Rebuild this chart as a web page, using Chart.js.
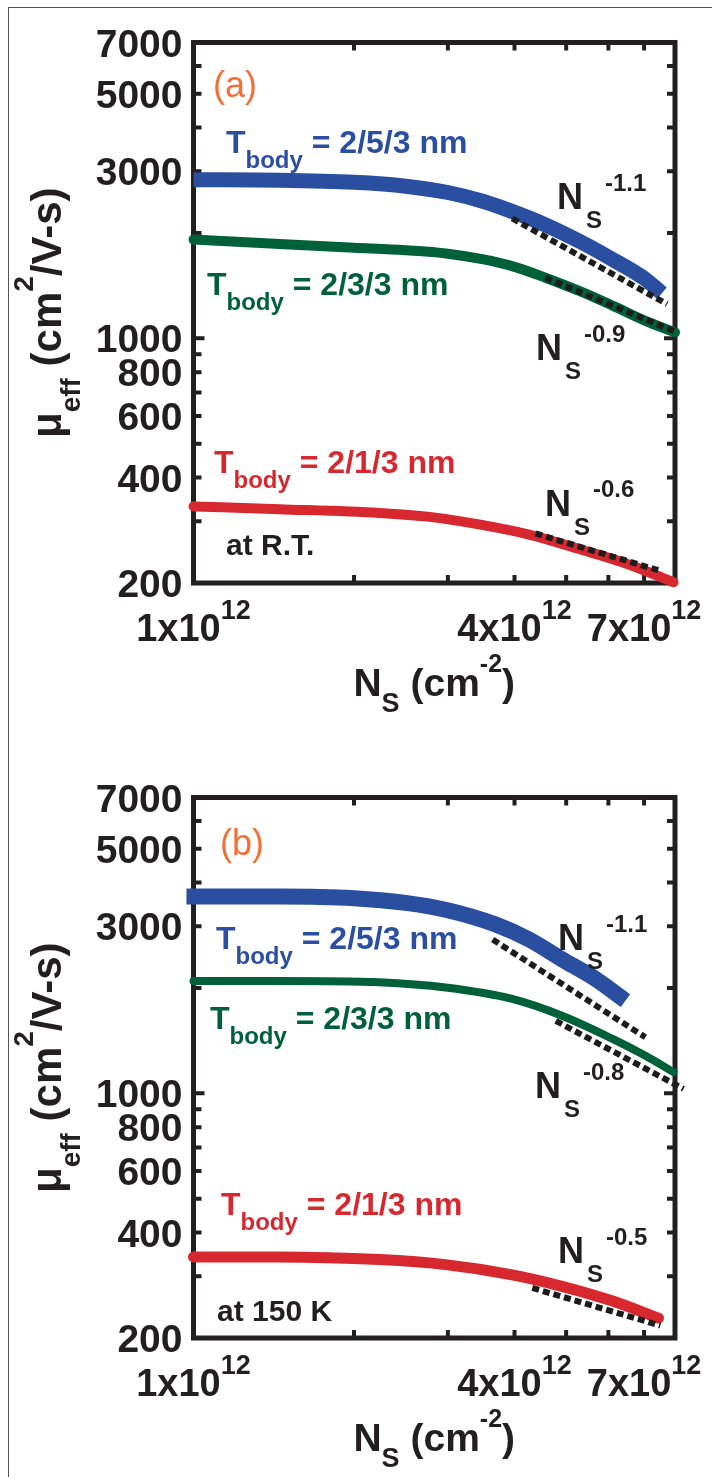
<!DOCTYPE html>
<html>
<head>
<meta charset="utf-8">
<script src="https://cdn.jsdelivr.net/npm/chart.js@4.4.1/dist/chart.umd.min.js"></script>
<style>
  html, body { margin: 0; padding: 0; background: #fff; }
  body { width: 712px; height: 1477px; position: relative; overflow: hidden; }
  #frame { position: absolute; left: 8px; top: 7px; width: 720px; height: 1500px;
           border-left: 1px solid #555; border-top: 1px solid #555; }
  canvas { position: absolute; left: 0; }
  #chartA { top: 0; }
  #chartB { top: 755px; }
</style>
</head>
<body>
<div id="frame"></div>
<canvas id="chartA" width="712" height="722"></canvas>
<canvas id="chartB" width="712" height="722"></canvas>
<script>
// axis ticks
const xTicks = [2e12, 3e12, 4e12, 5e12, 6e12, 7e12];
const xLabels = [1e12, 4e12, 7e12];
const yTicks = [300, 400, 500, 600, 700, 800, 900, 1000, 2000, 3000, 4000, 5000, 6000];
const yLabels = [200, 400, 600, 800, 1000, 3000, 5000, 7000];

// (a) room temperature
const nsA_253 = [1.0e12, 1.45e12, 2.0e12, 2.5e12, 3.0e12, 3.5e12, 4.0e12, 4.57e12, 5.29e12, 6.11e12, 7.04e12, 7.56e12];
const muA_253 = [2840, 2830, 2790, 2720, 2610, 2460, 2290, 2110, 1895, 1680, 1475, 1345];
const nsA_233 = [1.0e12, 1.45e12, 2.0e12, 2.5e12, 3.0e12, 3.5e12, 4.0e12, 4.57e12, 5.29e12, 6.11e12, 7.04e12, 8.0e12];
const muA_233 = [1915, 1860, 1815, 1785, 1745, 1680, 1600, 1490, 1366, 1240, 1122, 1040];
const nsA_213 = [1.0e12, 1.45e12, 2.23e12, 2.77e12, 3.43e12, 4.26e12, 5.29e12, 6.55e12, 7.95e12];
const muA_213 = [331, 325, 317, 309, 294, 275, 250, 226, 201];
const nsFitA_253 = [3.96e12, 7.73e12], muFitA_253 = [2200, 1252];
const nsFitA_233 = [4.57e12, 8.0e12], muFitA_233 = [1490, 1045];
const nsFitA_213 = [4.38e12, 7.56e12], muFitA_213 = [277, 216];

// (b) 150 K
const nsB_253 = [0.97e12, 1.45e12, 2.0e12, 2.5e12, 2.97e12, 3.69e12, 4.26e12, 4.91e12, 5.68e12, 6.46e12];
const muB_253 = [3650, 3650, 3610, 3500, 3345, 3035, 2750, 2415, 2120, 1840];
const nsB_233 = [1.0e12, 1.45e12, 2.23e12, 2.97e12, 3.96e12, 4.91e12, 6.11e12, 7.04e12, 7.95e12];
const muB_233 = [2095, 2095, 2075, 2005, 1860, 1665, 1430, 1280, 1150];
const nsB_213 = [1.0e12, 1.45e12, 2.23e12, 2.97e12, 3.96e12, 4.91e12, 6.11e12, 7.45e12];
const muB_213 = [341, 341, 335, 324, 303, 281, 255, 228];
const nsFitB_253 = [3.64e12, 7.04e12], muFitB_253 = [2750, 1446];
const nsFitB_233 = [4.78e12, 8.3e12], muFitB_233 = [1610, 1030];
const nsFitB_213 = [4.32e12, 7.51e12], muFitB_213 = [278, 217];

const BLUE = '#2a4ea0', GREEN = '#00603a', RED = '#d7282f', ORANGE = '#f26f36', INK = '#231f20';
const FAM = '"Liberation Sans", Arial, sans-serif';

function pts(xs, ys) { return xs.map((x, i) => ({ x: x, y: ys[i] })); }

function curve(xs, ys, color, width) {
  return { data: pts(xs, ys), showLine: true, borderColor: color, borderWidth: width,
           pointRadius: 0, clip: false, cubicInterpolationMode: 'monotone',
           borderCapStyle: 'round', borderJoinStyle: 'round', order: 1 };
}
function fit(xs, ys) {
  return { data: pts(xs, ys), showLine: true, borderColor: '#1c1c1c', borderWidth: 6,
           borderDash: [7, 4], pointRadius: 0, clip: false, tension: 0, order: 0 };
}

// draws a run of text pieces: [text, size, dy, weight, color]
function rich(ctx, x, y, parts, align, color) {
  let w = 0;
  parts.forEach(p => { ctx.font = (p[3] || 'bold') + ' ' + p[1] + 'px ' + FAM; w += ctx.measureText(p[0]).width; });
  let cx = align === 'center' ? x - w / 2 : (align === 'right' ? x - w : x);
  ctx.textAlign = 'left';
  ctx.textBaseline = 'alphabetic';
  parts.forEach(p => {
    ctx.font = (p[3] || 'bold') + ' ' + p[1] + 'px ' + FAM;
    ctx.fillStyle = p[4] || color || INK;
    ctx.fillText(p[0], cx, y + (p[2] || 0));
    cx += ctx.measureText(p[0]).width;
  });
}

function tbody(ctx, x, y, rest, color) {
  rich(ctx, x, y, [['T', 32], ['body', 24, 15], [' ' + rest, 32]], 'left', color);
}
function nsPow(ctx, x, y, exp) {
  rich(ctx, x, y, [['N', 36]]);
  rich(ctx, x + 29, y + 19, [['S', 24]]);
  rich(ctx, x + 48, y - 18.5, [[exp, 24]]);
}

const decor = {
  id: 'decor',
  beforeDatasetsDraw(chart) {
    const ctx = chart.ctx, a = chart.chartArea, xs = chart.scales.x, ys = chart.scales.y;
    ctx.save();
    ctx.strokeStyle = INK;
    ctx.lineWidth = 5;
    ctx.strokeRect(a.left, a.top, a.right - a.left, a.bottom - a.top);
    ctx.lineWidth = 4;
    ctx.beginPath();
    xTicks.forEach(v => {
      const px = xs.getPixelForValue(v);
      ctx.moveTo(px, a.bottom); ctx.lineTo(px, a.bottom - 8);
      ctx.moveTo(px, a.top); ctx.lineTo(px, a.top + 8);
    });
    yTicks.forEach(v => {
      const py = ys.getPixelForValue(v);
      const len = v === 1000 ? 11 : 8;
      ctx.moveTo(a.left, py); ctx.lineTo(a.left + len, py);
      ctx.moveTo(a.right, py); ctx.lineTo(a.right - len, py);
    });
    ctx.stroke();
    ctx.restore();
  },
  afterDatasetsDraw(chart, args, opts) {
    const ctx = chart.ctx, a = chart.chartArea, xs = chart.scales.x, ys = chart.scales.y;
    ctx.save();
    // tick labels
    yLabels.forEach(v => {
      rich(ctx, a.left - 11, ys.getPixelForValue(v) + 14, [[String(v), 39]], 'right');
    });
    xLabels.forEach(v => {
      const m = Math.round(v / 1e12);
      rich(ctx, xs.getPixelForValue(v), a.bottom + 58, [[m + 'x10', 38], ['12', 27, -22]], 'center');
    });
    // axis titles
    const midX = (a.left + a.right) / 2, midY = (a.top + a.bottom) / 2;
    rich(ctx, midX, a.bottom + 113, [['N', 39], ['S', 27, 16], [' (cm', 39], ['-2', 25, -24], [')', 39]], 'center');
    ctx.save();
    ctx.translate(61, midY);
    ctx.rotate(-Math.PI / 2);
    rich(ctx, 0, 0, [['\u03bc', 42], ['eff', 28, 19], [' (cm', 42], ['2', 28, -28], ['/V-s)', 42]], 'center');
    ctx.restore();
    // annotations
    rich(ctx, opts.tag[1], opts.tag[2], [[opts.tag[0], 36, 0, 'normal', ORANGE]]);
    tbody(ctx, opts.blue[0], opts.blue[1], '= 2/5/3 nm', BLUE);
    tbody(ctx, opts.green[0], opts.green[1], '= 2/3/3 nm', GREEN);
    tbody(ctx, opts.red[0], opts.red[1], '= 2/1/3 nm', RED);
    rich(ctx, opts.cond[1], opts.cond[2], [[opts.cond[0], 30]]);
    opts.pows.forEach(p => nsPow(ctx, p[1], p[2], p[0]));
    ctx.restore();
  }
};

function makeChart(id, sets, text) {
  return new Chart(document.getElementById(id), {
    type: 'scatter',
    data: { datasets: sets },
    options: {
      responsive: false,
      animation: false,
      devicePixelRatio: 1,
      layout: { padding: { left: 193.5, right: 37, top: 42.5, bottom: 139 } },
      plugins: { legend: { display: false }, tooltip: { enabled: false }, decor: text },
      scales: {
        x: { type: 'logarithmic', min: 1e12, max: 8e12, display: false },
        y: { type: 'logarithmic', min: 200, max: 7000, display: false }
      }
    },
    plugins: [decor]
  });
}

makeChart('chartA', [
  fit(nsFitA_253, muFitA_253), fit(nsFitA_233, muFitA_233), fit(nsFitA_213, muFitA_213),
  Object.assign(curve(nsA_253, muA_253, BLUE, 15), { borderCapStyle: 'butt' }),
  curve(nsA_233, muA_233, GREEN, 10),
  curve(nsA_213, muA_213, RED, 10)
], {
  tag: ['(a)', 213, 96.5],
  blue: [226, 153], green: [207, 294.5], red: [214, 473],
  cond: ['at R.T.', 226, 554.5],
  pows: [['-1.1', 557, 209], ['-0.9', 536, 360], ['-0.6', 545, 515.6]]
});

makeChart('chartB', [
  fit(nsFitB_253, muFitB_253), fit(nsFitB_233, muFitB_233), fit(nsFitB_213, muFitB_213),
  Object.assign(curve(nsB_253, muB_253, BLUE, 16), { borderCapStyle: 'butt' }),
  curve(nsB_233, muB_233, GREEN, 8),
  curve(nsB_213, muB_213, RED, 11)
], {
  tag: ['(b)', 220, 100],
  blue: [216, 193.5], green: [210, 273.5], red: [221, 459.5],
  cond: ['at 150 K', 217, 566],
  pows: [['-1.1', 558, 195.4], ['-0.8', 535, 343], ['-0.5', 558, 508]]
});
</script>
</body>
</html>
